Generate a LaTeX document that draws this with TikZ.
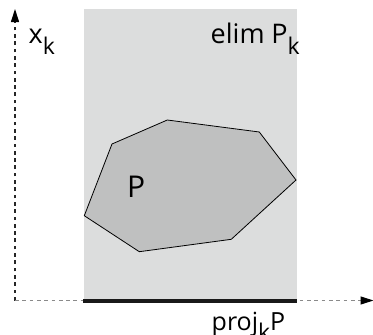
\documentclass[tikz,border=0pt]{standalone}
\usepackage{fontspec}
\setmainfont{Open Sans}
\usetikzlibrary{arrows.meta}
\definecolor{regiongray}{HTML}{DCDDDD}
\definecolor{polygray}{HTML}{BFC0C0}
\definecolor{axisgray}{HTML}{8A8A8A}
\newcommand{\lowsub}[1]{\raisebox{-0.42em}{\fontsize{23}{23}\selectfont #1}}
\tikzset{
  lbl/.style={inner sep=0pt, anchor=base west, font=\fontsize{27}{27}\selectfont},
  axisline/.style={line width=1.1pt, dash pattern=on 3.7pt off 3.6pt},
  tiphead/.style={-{Triangle[length=13pt,width=8pt,color=black,fill=black]}},
}
\begin{document}
\begin{tikzpicture}[x=1pt,y=-1pt]
\useasboundingbox (0,0) rectangle (373,335);
% shaded region
\fill[regiongray] (84,9) rectangle (297,300.5);
% polygon P
\draw[fill=polygray, line width=0.8pt, line join=miter]
  (112,144) -- (167.3,120) -- (259.3,132) -- (296,180) -- (231.3,239.3)
  -- (139.3,251.7) -- (84.3,215.7) -- cycle;
% axes
\coordinate (O) at (15,300.5);
\coordinate (ytop) at (15,9);
\coordinate (xend) at (373.5,300.5);
\draw[axisline, black!85, tiphead] (O) -- (ytop);
\draw[axisline, axisgray, tiphead] (O) -- (xend);
% projection bar
\coordinate (pa) at (83,300.8);
\coordinate (pb) at (297,300.8);
\draw[line width=3.6pt, black!90] (pa) -- (pb);
% labels
\node[lbl] (xk) at (28.5,43.5) {x\lowsub{k}};
\node[lbl] (elim) at (210.5,43.5) {elim\hspace{0.25em}P\lowsub{k}};
\node[lbl, font=\fontsize{30}{30}\selectfont] (P) at (127,197) {P};
\node[lbl, font=\fontsize{25}{25}\selectfont] (proj) at (211.5,330) {proj\lowsub{k}P};
\end{tikzpicture}
\end{document}
